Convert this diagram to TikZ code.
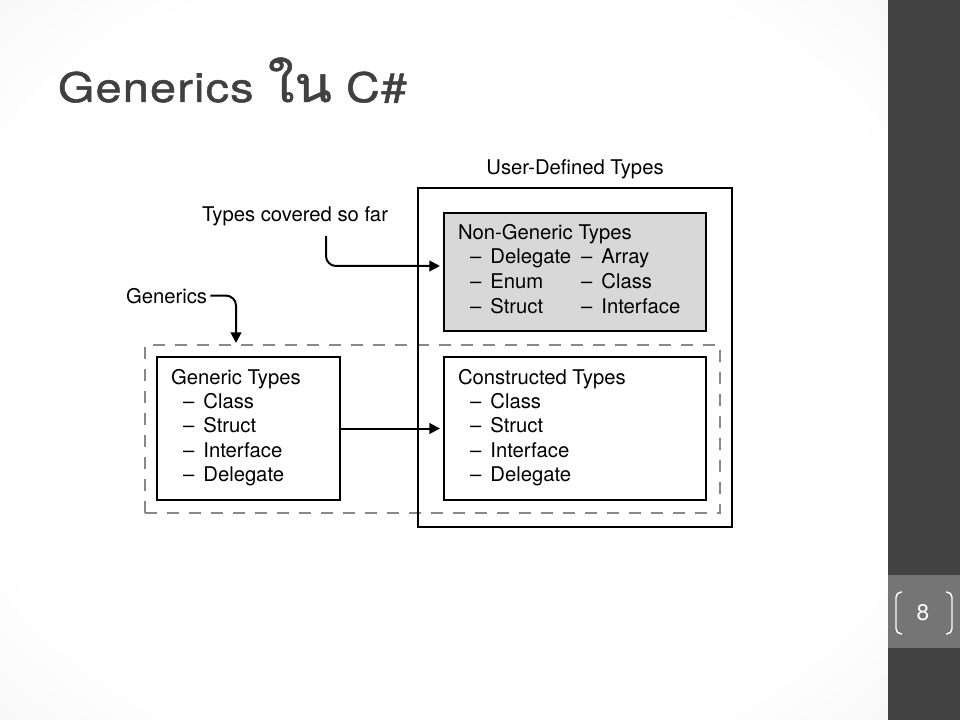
\documentclass[tikz,border=0pt]{standalone}
\usepackage{fontspec}
\setmainfont{TeX Gyre Heros}
\newfontfamily\titlelatin[FakeStretch=1.15,LetterSpace=3,FakeBold=1.2]{TeX Gyre Heros}
\newfontfamily\titlethai[Script=Thai,FakeStretch=1.1,FakeBold=1,Scale=1.22]{Loma}
\usetikzlibrary{arrows.meta,fit}
\definecolor{slidebar}{HTML}{434343}
\definecolor{pagebox}{HTML}{757575}
\definecolor{titlegray}{HTML}{404040}
\definecolor{shadedbox}{HTML}{D8D8D8}
\definecolor{dashgray}{HTML}{888888}
\pgfdeclareradialshading{vignette}{\pgfpoint{0bp}{0bp}}{color(0bp)=(white); color(28bp)=(white); color(71bp)=(black!15)}
% list entry: dash, gap, word
\newcommand\entry[1]{–\hspace{0.45em}#1}

\begin{document}
\begin{tikzpicture}[x=0.75pt,y=-0.75pt,
  every node/.style={inner sep=0pt, outer sep=0pt},
  txt/.style={anchor=base west, font=\fontsize{15.2pt}{18pt}\selectfont},
  frame/.style={draw=black, line width=1.5pt, fit={#1}},
  arr/.style={line width=1.5pt, -{Triangle[length=8pt,width=8pt]}},
  elbow/.style={rounded corners=7.5pt},
  bracket/.style={draw=white, line width=1.1pt, rounded corners=4pt}
]
\useasboundingbox (0,0) rectangle (960,720);

% slide background and side bar
\shade[shading=vignette] (0,0) rectangle (888,720);
\fill[slidebar] (888,0) rectangle (960,720);
\fill[pagebox] (888,575) rectangle (960,648);
\draw[bracket] (902,592) -- (896,592) -- (896,634) -- (902,634);
\draw[bracket] (946,592) -- (952,592) -- (952,634) -- (946,634);
\node[text=white, font=\fontsize{17pt}{20pt}\selectfont] (pagenum) at (923,613) {8};

% title
\node[anchor=base west, text=titlegray, font=\titlelatin\fontsize{30.5pt}{36pt}\selectfont]
  (title) at (58,102) {Generics {\titlethai ใน} C\#};

% generics group (dashed)
\node[draw=dashgray, line width=1.5pt, dash pattern=on 9pt off 7.5pt, fit={(145,345) (720,513)}] (genzone) {};

% boxes
\node[frame={(418,188) (732,527)}] (udt) {};
\node[frame={(444,213) (706,331)}, fill=shadedbox] (ngt) {};
\node[frame={(444,357) (706,500)}, fill=white] (cst) {};
\node[frame={(157,357) (340,500)}, fill=white] (gnt) {};

% labels
\node[txt, anchor=base] (udtlabel) at (575,175) {User-Defined Types};
\node[txt] (covered) at (202,222) {Types covered so far};
\node[txt] (genlabel) at (126,303) {Generics};

% non-generic types
\node[txt] (ngtitle) at (458,240) {Non-Generic Types};
\node[txt] (ng1) at (470,264) {\entry{Delegate}};
\node[txt] (ng2) at (470,289) {\entry{Enum}};
\node[txt] (ng3) at (470,313) {\entry{Struct}};
\node[txt] (ng4) at (581,264) {\entry{Array}};
\node[txt] (ng5) at (581,289) {\entry{Class}};
\node[txt] (ng6) at (581,313) {\entry{Interface}};

% generic types
\node[txt] (gntitle) at (171,384) {Generic Types};
\node[txt] (gn1) at (183,408) {\entry{Class}};
\node[txt] (gn2) at (183,432) {\entry{Struct}};
\node[txt] (gn3) at (183,457) {\entry{Interface}};
\node[txt] (gn4) at (183,481) {\entry{Delegate}};

% constructed types
\node[txt] (cstitle) at (458,384) {Constructed Types};
\node[txt] (cs1) at (470,408) {\entry{Class}};
\node[txt] (cs2) at (470,432) {\entry{Struct}};
\node[txt] (cs3) at (470,457) {\entry{Interface}};
\node[txt] (cs4) at (470,481) {\entry{Delegate}};

% connectors
\coordinate (covfoot) at (326,236);
\coordinate (ngin) at (440,266);
\coordinate (gtip) at (236,343);
\draw[arr, elbow] (covfoot) |- (ngin);
\draw[arr, elbow] ([xshift=2.5pt]genlabel.east) -| (gtip);
\draw[arr] (gnt.east) -- ([xshift=-3pt]cst.west);
\end{tikzpicture}
\end{document}
